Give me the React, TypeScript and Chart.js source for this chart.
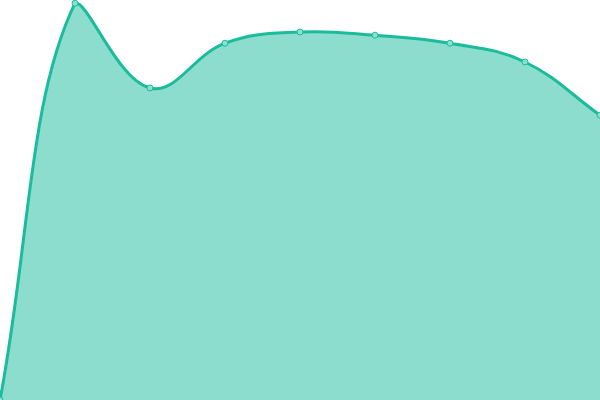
import { useEffect, useRef } from "react"
import { Chart, registerables } from "chart.js"

Chart.register(...registerables)

const labels = ["A", "B", "C", "D", "E", "F", "G", "H", "I"]
const values = [0, 99.2, 78, 89.2, 92, 91.2, 89.2, 84.5, 71.2]

export default function App() {
  const canvasRef = useRef<HTMLCanvasElement>(null)

  useEffect(() => {
    document.body.style.margin = "0"
    const canvas = canvasRef.current
    if (!canvas) return
    const chart = new Chart(canvas, {
      type: "line",
      data: {
        labels,
        datasets: [
          {
            data: values,
            borderColor: "#1abc9c",
            backgroundColor: "rgba(26,188,156,0.5)",
            borderWidth: 3,
            pointRadius: 3,
            pointBackgroundColor: "#8adfcf",
            pointBorderColor: "#1abc9c",
            pointBorderWidth: 1,
            tension: 0.4,
            fill: true,
          },
        ],
      },
      options: {
        animation: false,
        responsive: false,
        layout: { padding: 0, autoPadding: false },
        plugins: { legend: { display: false }, tooltip: { enabled: false } },
        scales: {
          x: { display: false, offset: false },
          y: { display: false, min: 0, max: 100 },
        },
      },
    })
    return () => chart.destroy()
  }, [])

  return (
    <div style={{ width: 600, height: 400 }}>
      <canvas ref={canvasRef} width={600} height={400} />
    </div>
  )
}
